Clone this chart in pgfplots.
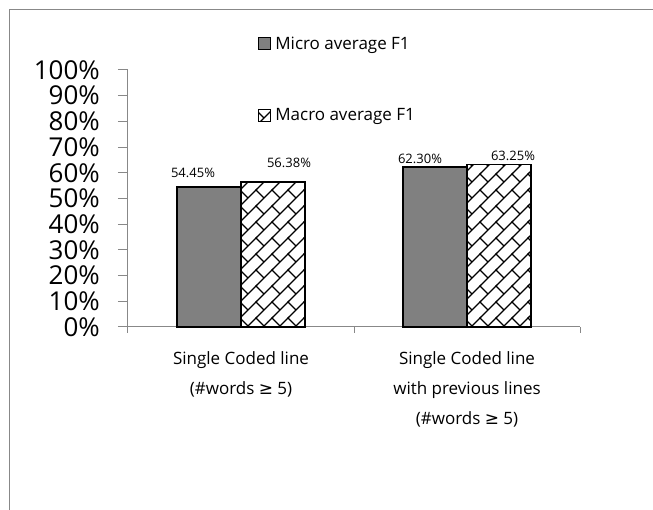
\documentclass[border=0pt]{standalone}
\usepackage{pgfplots}
\usepackage{pgfplotstable}
\pgfplotsset{compat=1.18}
\usepackage{fontspec}
\setmainfont{Open Sans}
\newfontfamily\symfont{DejaVu Sans}
\usetikzlibrary{patterns}

% Excel-like "diagonal brick" hatch
\pgfdeclarepatternformonly{diagbrick}{\pgfqpoint{-1pt}{-1pt}}{\pgfqpoint{17pt}{17pt}}{\pgfqpoint{16pt}{16pt}}{%
  \pgfsetlinewidth{1.1pt}%
  \pgfpathmoveto{\pgfqpoint{-1pt}{-1pt}}%
  \pgfpathlineto{\pgfqpoint{17pt}{17pt}}%
  \pgfpathmoveto{\pgfqpoint{8pt}{8pt}}%
  \pgfpathlineto{\pgfqpoint{0pt}{16pt}}%
  \pgfusepath{stroke}}

\definecolor{axisgray}{HTML}{888888}
\definecolor{bargray}{HTML}{808080}

\pgfplotsset{
  /pgf/number format/assume math mode=true,
  boxlegend/.style={legend image code/.code={\draw[##1, line width=1pt] (0pt,-6pt) rectangle (12pt,6pt);}},
}

\pgfplotstableread{
x y dx dy
0 54.45 -16 14
1 62.30 -15 8
}\microdata
\pgfplotstableread{
x y dx dy
0 56.38 16 19
1 63.25 14 9
}\macrodata

\begin{document}
\begin{tikzpicture}
\useasboundingbox (-128pt,-183pt) rectangle (525pt,327pt);
% outer chart frame (cropped)
\draw[axisgray, line width=1pt] (-118pt,-190pt) -- (-118pt,317pt) -- (530pt,317pt);
\begin{axis}[
    at={(0pt,0pt)}, anchor=south west,
    scale only axis,
    width=452pt, height=257pt,
    ybar=0pt, bar width=64pt,
    xmin=-0.5, xmax=1.5,
    ymin=0, ymax=100,
    axis x line*=bottom, axis y line*=left,
    axis line style={axisgray, line width=1pt},
    xtick={0,1},
    xticklabels={Single Coded line\\(\#words {\symfont≥} 5),
                 Single Coded line\\with previous lines\\(\#words {\symfont≥} 5)},
    minor xtick={-0.5,0.5,1.5},
    major x tick style={draw=none},
    minor x tick style={axisgray, line width=1pt},
    minor tick length=6pt,
    ytick={0,10,...,100},
    yticklabel={\pgfmathprintnumber{\tick}\%},
    y tick style={axisgray, line width=1pt},
    major tick length=10pt,
    tick align=outside,
    yticklabel style={font=\fontsize{26}{26}\selectfont, anchor=east, inner sep=0pt, xshift=-18pt},
    xticklabel style={font=\fontsize{17}{30}\selectfont, align=center, inner sep=0pt, yshift=-14pt},
    nodes near coords={\pgfmathprintnumber[fixed,fixed zerofill,precision=2]{\pgfplotspointmeta}\%},
    point meta=y,
    visualization depends on={\thisrow{dx}\as\dx},
    visualization depends on={\thisrow{dy}\as\dy},
    nodes near coords style={font=\fontsize{13}{13}\selectfont, anchor=center, xshift=\dx*1pt, yshift=\dy*1pt, black},
    legend style={draw=none, fill=none, at={(0.288,1.13)}, anchor=north west,
                  font=\fontsize{17}{17}\selectfont, row sep=58pt, column sep=4pt,
                  inner sep=0pt, nodes={inner sep=0pt}},
    legend cell align=left,
    clip=false,
]
\addplot[fill=bargray, draw=black, line width=1.3pt, boxlegend]
    table[x=x, y=y] {\microdata};
\addlegendentry{Micro average F1}
\addplot[fill=white, draw=black, line width=1.3pt,
         postaction={pattern=diagbrick, pattern color=black}, boxlegend]
    table[x=x, y=y] {\macrodata};
\addlegendentry{Macro average F1}
\end{axis}
\end{tikzpicture}
\end{document}
